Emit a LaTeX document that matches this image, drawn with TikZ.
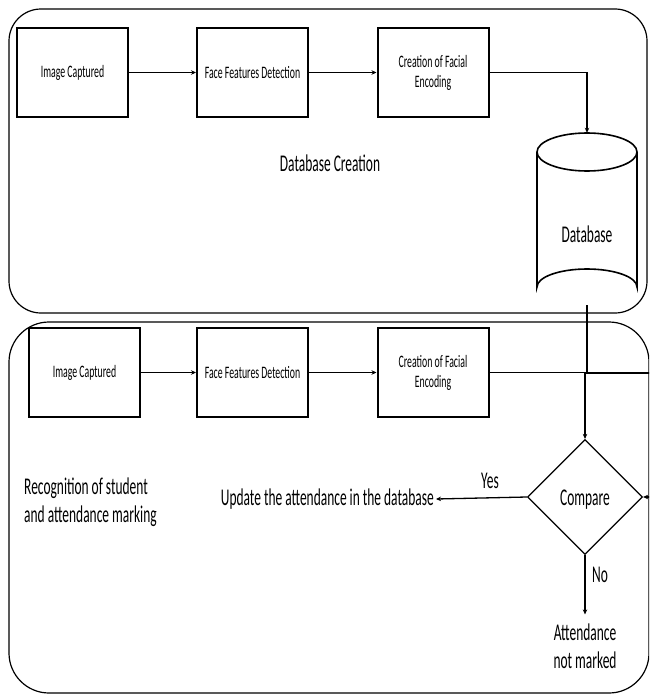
\documentclass[tikz,border=0pt]{standalone}
\usepackage{fontspec}
\setmainfont{Carlito}[FakeStretch=0.56]
\usetikzlibrary{shapes.geometric,arrows.meta}
\begin{document}
\begin{tikzpicture}[x=1pt,y=-1pt,
  stepbox/.style={draw=black,line width=2pt,minimum width=111pt,minimum height=89pt,inner sep=0pt,align=center,font=\fontsize{17.5}{20}\selectfont},
  frame/.style={draw=black,line width=1.2pt},
  conn/.style={line width=1.3pt,-{Stealth[length=5pt,width=4.5pt]}},
  bigtxt/.style={font=\fontsize{24}{28}\selectfont,inner sep=2pt}]
\useasboundingbox (0,0) rectangle (649,696);
\clip (0,0) rectangle (649,696);
% frames
\draw[frame,rounded corners=32pt] (9,9) rectangle (647,313);
\draw[frame,rounded corners=40pt] (9,322) rectangle (649,693);
% top row
\node[stepbox] (b1) at (72.5,72.5) {Image Captured};
\node[stepbox] (b2) at (252.5,72.5) {Face Features Detection};
\node[stepbox] (b3) at (433,72.5) {Creation of Facial\\Encoding};
\node[bigtxt] (dbc) at (330,163) {Database Creation};
% database cylinder
\node[minimum width=100pt,minimum height=172pt,inner sep=0pt] (db) at (587,219) {};
\draw[line width=1.6pt] (537,152) -- (537,287) arc[start angle=180,end angle=360,x radius=50,y radius=18] -- (637,152);
\draw[line width=1.6pt] (587,152) ellipse[x radius=50,y radius=19];
\node[bigtxt] (dbt) at (587,234) {Database};
\draw[conn] (b1.east) -- (b2.west);
\draw[conn] (b2.east) -- (b3.west);
\draw[conn] (b3.east) -| (db.north);
% bottom row
\node[stepbox] (b4) at (84.5,372.5) {Image Captured};
\node[stepbox] (b5) at (252.5,372.5) {Face Features Detection};
\node[stepbox] (b6) at (433,372.5) {Creation of Facial\\Encoding};
\node[diamond,draw=black,line width=1.2pt,minimum width=115pt,minimum height=115pt,aspect=1,inner sep=0pt] (cmp) at (585,497) {};
\node[bigtxt] (cmpt) at (585,500) {Compare};
\node[bigtxt,anchor=east] (upd) at (436,499) {Update the attendance in the database};
\node[bigtxt,align=center,inner ysep=9pt] (att) at (585,646) {Attendance\\not marked};
\node[bigtxt,align=left,anchor=west] (rec) at (22,502) {Recognition of student\\and attendance marking};
\node[bigtxt] (yes) at (490,481) {Yes};
\node[bigtxt,anchor=west] (no) at (590,575) {No};
\coordinate (o1) at (670,373);
\coordinate (o2) at (670,497);
\draw[conn] (b4.east) -- (b5.west);
\draw[conn] (b5.east) -- (b6.west);
\draw[conn] (b6.east) -| (cmp.north);
\draw[conn] (cmp.west) -- (upd.east);
\draw[conn] (cmp.south) -- (att.north);
\draw[conn] (db.south) |- (o1) -- (o2) -- (cmp.east);
\end{tikzpicture}
\end{document}
